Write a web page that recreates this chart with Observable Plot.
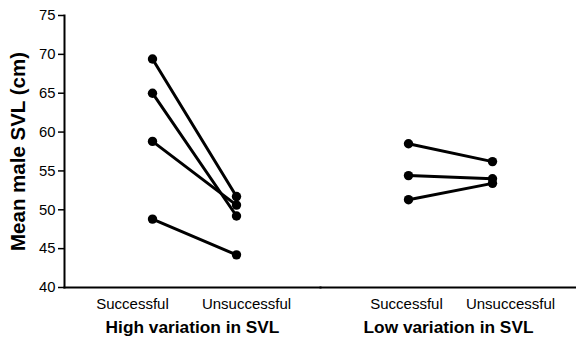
<!DOCTYPE html>
<html>
<head>
<meta charset="utf-8">
<script src="https://cdn.jsdelivr.net/npm/d3@7"></script>
<script src="https://cdn.jsdelivr.net/npm/@observablehq/plot@0.6"></script>
<style>
  body { margin: 0; background: #fff; }
  #chart svg { display: block; }
  g[aria-label="y-axis label"] text { font-weight: bold; font-size: 20.5px; }
  g[aria-label="fx-axis tick label"] text { font-weight: bold; font-size: 17.3px; }
  g[aria-label="y-axis tick label"] text { font-size: 14.8px; }
</style>
</head>
<body>
<div id="chart"></div>
<script>
const groups = ["High variation in SVL", "Low variation in SVL"];
const outcomes = ["Successful", "Unsuccessful"];
const yTicks = [40, 45, 50, 55, 60, 65, 70, 75];
const highSuccessful = [69.4, 65.0, 58.8, 48.8];
const highUnsuccessful = [51.7, 49.2, 50.6, 44.2];
const lowSuccessful = [58.5, 54.4, 51.3];
const lowUnsuccessful = [56.2, 54.0, 53.4];

const rows = [];
function addPairs(group, succ, unsucc) {
  succ.forEach((v, i) => {
    rows.push({group, outcome: outcomes[0], value: v, id: group + i});
    rows.push({group, outcome: outcomes[1], value: unsucc[i], id: group + i});
  });
}
addPairs(groups[0], highSuccessful, highUnsuccessful);
addPairs(groups[1], lowSuccessful, lowUnsuccessful);

// horizontal nudges of the category labels, as set in the original figure
const labelNudge = [[-20, 10], [-2, 18]];
const labelMarks = [];
groups.forEach((g, gi) => outcomes.forEach((o, oi) => {
  labelMarks.push(Plot.text([{group: g, outcome: o}], {
    fx: "group", x: "outcome", text: "outcome",
    frameAnchor: "bottom", lineAnchor: "top", dy: 11, dx: labelNudge[gi][oi],
    fontSize: 15, fill: "#000"
  }));
}));

const chart = Plot.plot({
  width: 576,
  height: 338,
  marginTop: 15,
  marginBottom: 51,
  marginLeft: 63,
  marginRight: 0,
  style: {fontFamily: "'Liberation Sans', Arial, Helvetica, sans-serif", color: "#000", background: "#fff"},
  fx: {domain: groups, padding: 0, label: null},
  x: {domain: outcomes, padding: 0.99, insetLeft: 4, label: null, axis: null},
  y: {domain: [40, 75], label: "Mean male SVL (cm)"},
  marks: [
    Plot.frame({anchor: "left", facetAnchor: "left", stroke: "#000", strokeWidth: 2}),
    Plot.frame({anchor: "bottom", stroke: "#000", strokeWidth: 2}),
    Plot.axisY({ticks: yTicks, tickSize: 6, tickPadding: 3, strokeWidth: 1.5,
      label: "Mean male SVL (cm)", labelAnchor: "center", labelOffset: 54, labelArrow: "none"}),
    Plot.axisFx({anchor: "bottom", tickSize: 0, tickPadding: 33, label: null}),
    ...labelMarks,
    Plot.line(rows, {fx: "group", x: "outcome", y: "value", z: "id", stroke: "#000", strokeWidth: 3}),
    Plot.dot(rows, {fx: "group", x: "outcome", y: "value", r: 4.7, fill: "#000"})
  ]
});
document.getElementById("chart").appendChild(chart);
</script>
</body>
</html>
